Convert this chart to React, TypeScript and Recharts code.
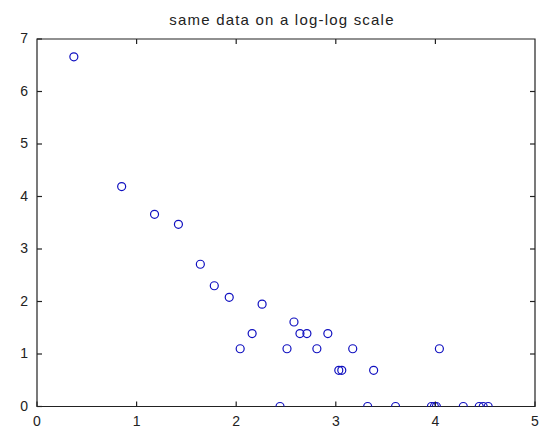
import { ScatterChart, Scatter, XAxis, YAxis, ReferenceArea, ReferenceLine } from "recharts";

// log of value vs log of count
const logValue = [
  0.37, 0.85, 1.18, 1.42, 1.64, 1.78, 1.93, 2.04, 2.16, 2.26, 2.44, 2.51,
  2.58, 2.64, 2.71, 2.81, 2.92, 3.03, 3.06, 3.17, 3.32, 3.38, 3.6, 3.96,
  3.99, 4.01, 4.04, 4.28, 4.44, 4.48, 4.53,
];
const logCount = [
  6.66, 4.19, 3.66, 3.47, 2.71, 2.3, 2.08, 1.1, 1.39, 1.95, 0, 1.1, 1.61,
  1.39, 1.39, 1.1, 1.39, 0.69, 0.69, 1.1, 0, 0.69, 0, 0, 0, 0, 1.1, 0, 0, 0,
  0,
];
const xTicks = [0, 1, 2, 3, 4, 5];
const yTicks = [0, 1, 2, 3, 4, 5, 6, 7];

const points = logValue.map((x, i) => ({ x, y: logCount[i] }));

const FONT = "Liberation Sans, Arial, sans-serif";
const INK = "#222";
const W = 542;
const H = 432;
const MARGIN = { top: 39, right: 7, bottom: 0, left: 0 };
const X_MAX = 5;
const Y_MAX = 7;
// 5px inward tick length expressed in data units (plot is ~498 x 367 px)
const TICK_X = 0.05;
const TICK_Y = 0.095;

function BottomTick({ x, y, payload }: any) {
  return (
    <g>
      <line x1={x} y1={y} x2={x} y2={y - 5} stroke={INK} strokeWidth={1.2} />
      <text x={x} y={y + 19} textAnchor="middle" fontSize={14} fontFamily={FONT} fill={INK}>
        {payload.value}
      </text>
    </g>
  );
}

function LeftTick({ x, y, payload }: any) {
  return (
    <g>
      <line x1={x} y1={y} x2={x + 5} y2={y} stroke={INK} strokeWidth={1.2} />
      <text x={x - 9} y={y + 4} textAnchor="end" fontSize={14} fontFamily={FONT} fill={INK}>
        {payload.value}
      </text>
    </g>
  );
}

export default function App() {
  return (
    <div style={{ position: "absolute", left: 0, top: 0, background: "#fff" }}>
      <ScatterChart width={W} height={H} margin={MARGIN}>
        <XAxis
          dataKey="x"
          type="number"
          domain={[0, X_MAX]}
          ticks={xTicks}
          height={25.5}
          tickSize={0}
          tickMargin={0}
          tickLine={false}
          tick={<BottomTick />}
          axisLine={false}
          allowDataOverflow
        />
        <YAxis
          dataKey="y"
          type="number"
          domain={[0, Y_MAX]}
          ticks={yTicks}
          width={37}
          tickSize={0}
          tickMargin={0}
          tickLine={false}
          tick={<LeftTick />}
          axisLine={false}
          allowDataOverflow
        />
        <ReferenceArea
          x1={0}
          x2={X_MAX}
          y1={0}
          y2={Y_MAX}
          fill="none"
          fillOpacity={0}
          stroke={INK}
          strokeOpacity={1}
          strokeWidth={1.2}
          ifOverflow="visible"
        />
        {/* top and right inward ticks of the box */}
        {xTicks.slice(1, -1).map((t) => (
          <ReferenceLine
            key={`tx${t}`}
            segment={[
              { x: t, y: Y_MAX },
              { x: t, y: Y_MAX - TICK_Y },
            ]}
            stroke={INK}
            strokeWidth={1.2}
            ifOverflow="visible"
          />
        ))}
        {yTicks.slice(1, -1).map((t) => (
          <ReferenceLine
            key={`ty${t}`}
            segment={[
              { x: X_MAX, y: t },
              { x: X_MAX - TICK_X, y: t },
            ]}
            stroke={INK}
            strokeWidth={1.2}
            ifOverflow="visible"
          />
        ))}
        <Scatter
          data={points}
          isAnimationActive={false}
          shape={(p: any) => (
            <circle cx={p.cx} cy={p.cy} r={4} fill="none" stroke="#1010c0" strokeWidth={1.2} />
          )}
        />
        <text
          x={282}
          y={25}
          textAnchor="middle"
          fontSize={15}
          letterSpacing={1.2}
          fontFamily={FONT}
          fill={INK}
        >
          same data on a log-log scale
        </text>
      </ScatterChart>
    </div>
  );
}
